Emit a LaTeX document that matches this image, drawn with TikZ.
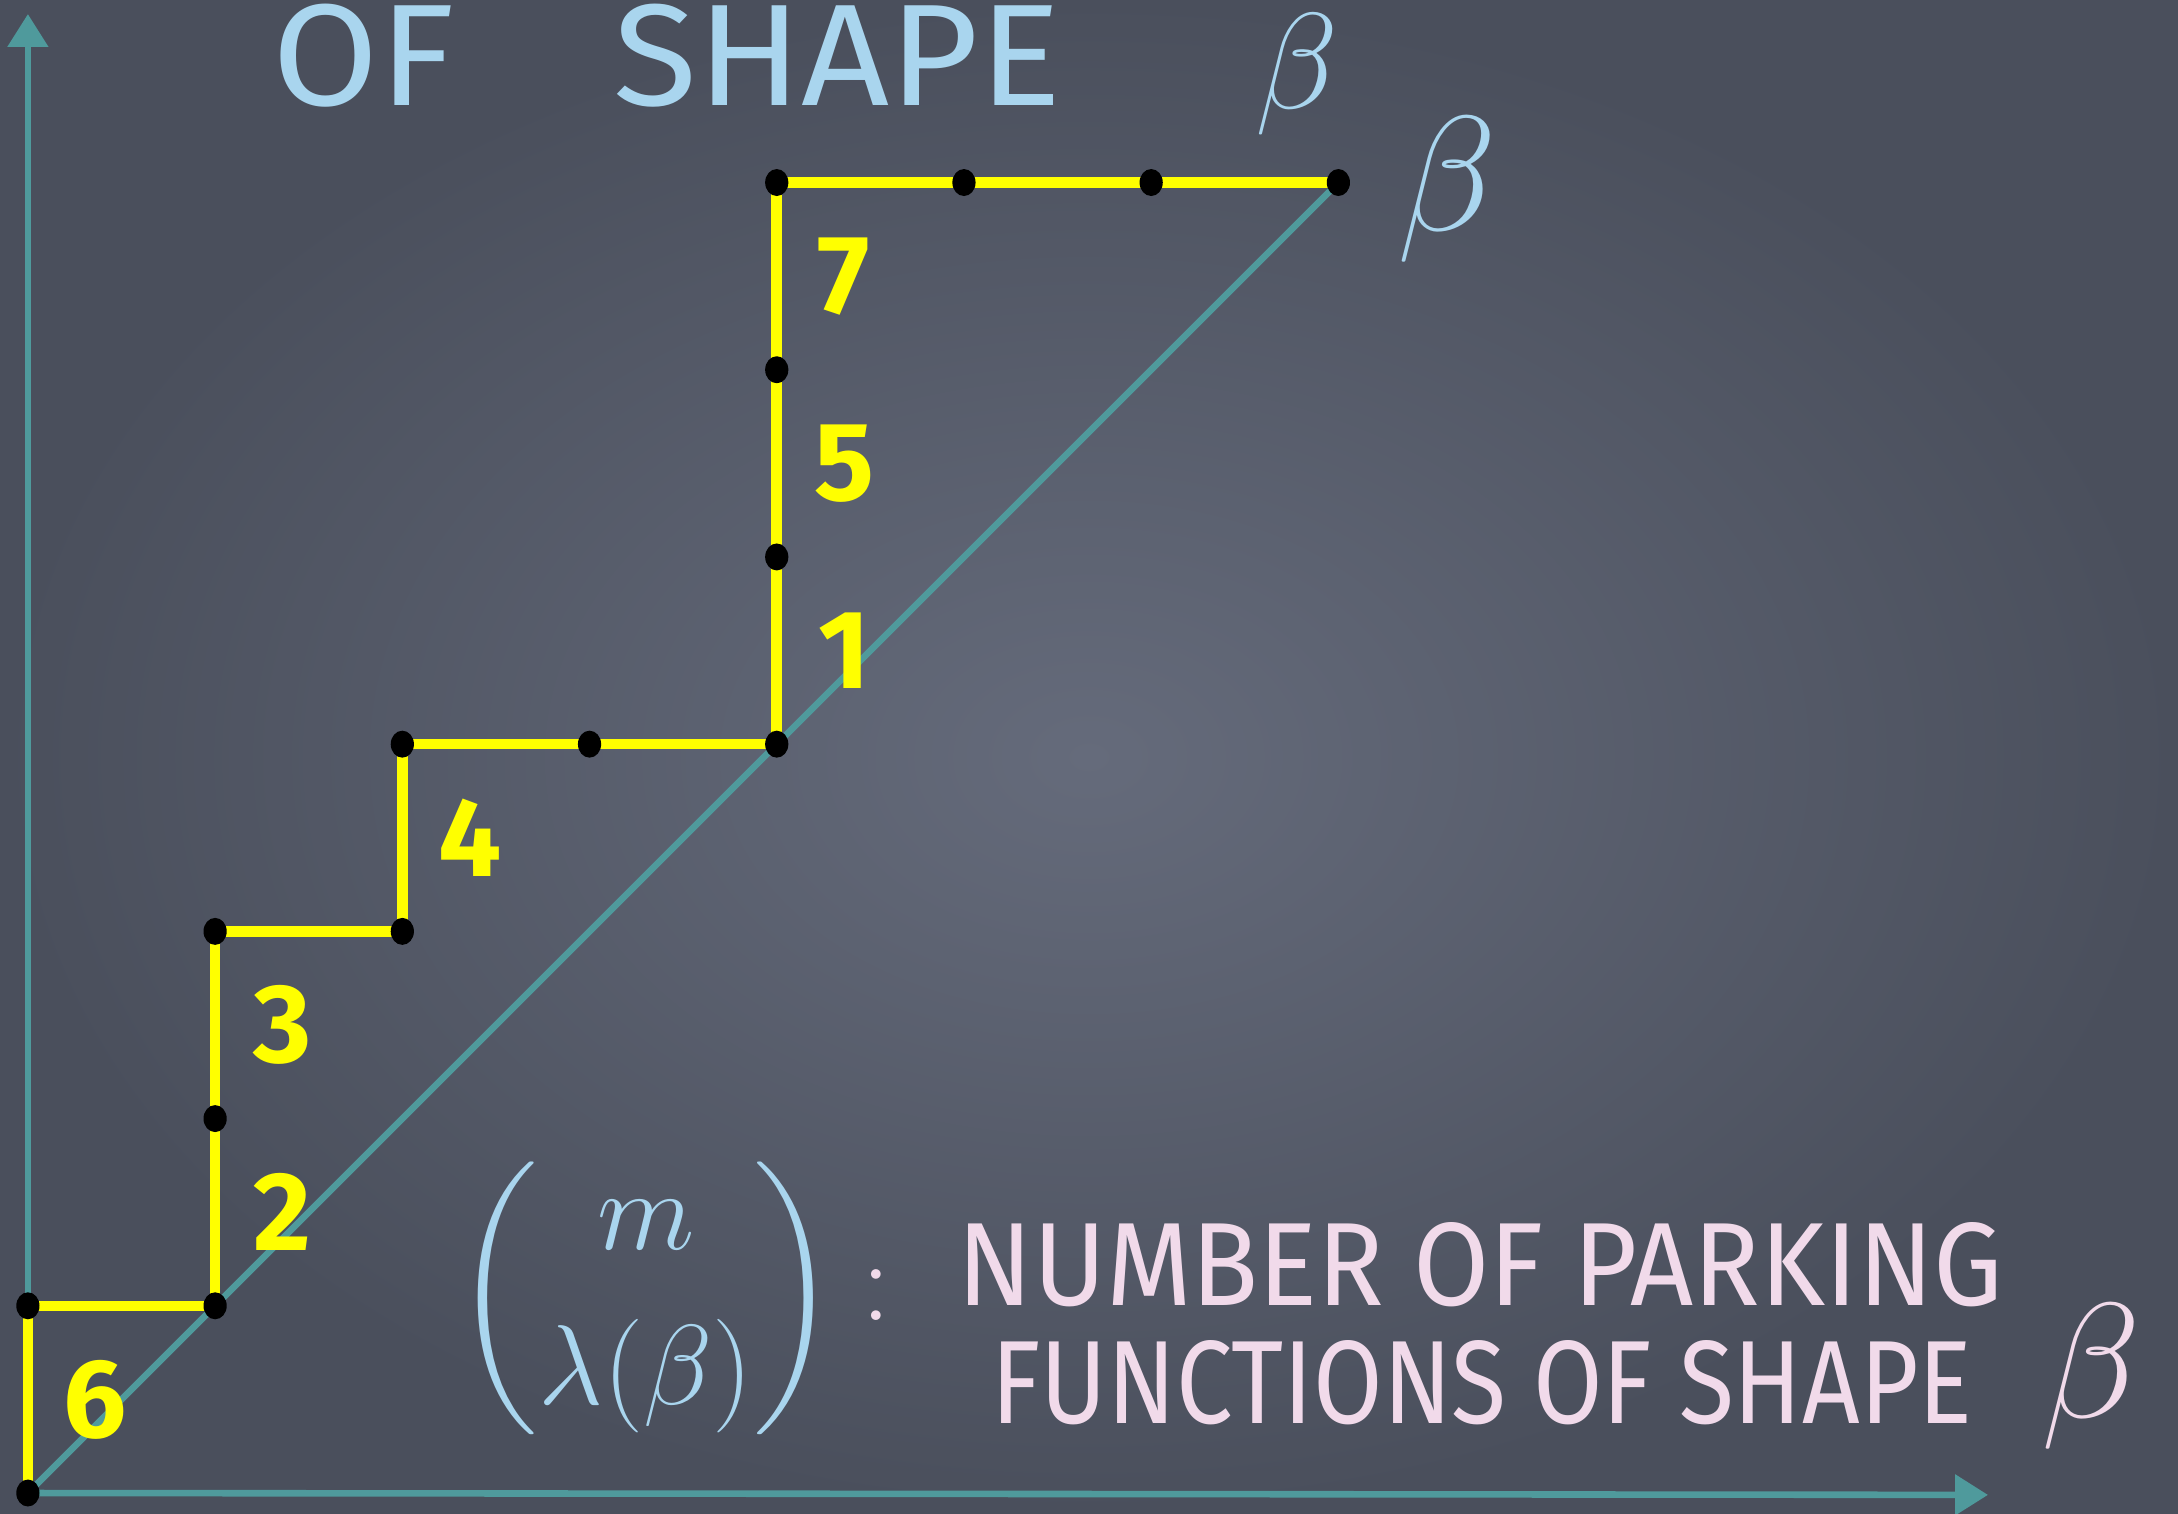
\documentclass[tikz,border=0pt]{standalone}
\usepackage{amsmath}
\usepackage{fontspec}
\usetikzlibrary{arrows.meta}
\newfontfamily\chalkfont{Fira Sans}[FakeStretch=0.85]
\newfontfamily\digitfont{Fira Sans}
\definecolor{board}{HTML}{656B7B}
\definecolor{boarddark}{HTML}{4A4F5C}
\definecolor{axisteal}{HTML}{4F9A9C}
\definecolor{chalkblue}{HTML}{A9D5EE}
\definecolor{chalkpink}{HTML}{F1DAEA}
\definecolor{pathyellow}{HTML}{FFFF00}
\tikzset{
  axisline/.style={axisteal, line width=1pt},
  lattice/.style={pathyellow, line width=1.6pt},
  vertex/.style={fill=black},
  num/.style={pathyellow, font={\digitfont\bfseries\fontsize{17}{19}\selectfont}},
  chalk/.style={font={\chalkfont\fontsize{18}{20}\selectfont}, inner sep=0pt}
}
\begin{document}
\begin{tikzpicture}[line join=round, line cap=round, >={Triangle[length=5pt,width=6pt]}]
	\useasboundingbox (-0.149,-0.112) rectangle (11.485,7.975);
	\shade[inner color=board, outer color=boarddark] (-0.149,-0.112) rectangle (11.485,7.975);
	% axes and diagonal
	\coordinate (O) at (0,0);
	\coordinate (ytip) at (0,7.9);
	\coordinate (xtip) at (10.47,-0.01);
	\draw[axisline,->] (O)--(ytip);
	\draw[axisline,->] (O)--(xtip);
	\foreach \n/\x/\y in {p0/0/0, p1/0/1, p2/1/1, p3/1/2, p4/1/3, p5/2/3, p6/2/4, p7/3/4,
		p8/4/4, p9/4/5, p10/4/6, p11/4/7, p12/5/7, p13/6/7, p14/7/7}
		\coordinate (\n) at (\x,\y);
	\draw[axisline] (p0)--(p14);
	% lattice path
	\draw[lattice] (p0)--(p1)--(p2)--(p3)--(p4)--(p5)--(p6)--(p7)--(p8)--(p9)--(p10)--(p11)--(p12)--(p13)--(p14);
	\foreach \n in {p0,p1,p2,p3,p4,p5,p6,p7,p8,p9,p10,p11,p12,p13,p14}
		\fill[vertex] (\n) ellipse (0.062 and 0.072);
	% labels of the north steps
	\node[num] (l6) at (0.36,0.5) {6};
	\node[num] (l2) at (1.36,1.5) {2};
	\node[num] (l3) at (1.36,2.5) {3};
	\node[num] (l4) at (2.36,3.5) {4};
	\node[num] (l1) at (4.36,4.5) {1};
	\node[num] (l5) at (4.36,5.5) {5};
	\node[num] (l7) at (4.36,6.5) {7};
	% chalk writing
	\node[chalk, chalkblue, anchor=base west] (of) at (1.3,7.41) {\fontsize{22}{24}\selectfont\scalebox{1.25}[1]{OF}};
	\node[chalk, chalkblue, anchor=base west] (shape) at (3.12,7.41) {\fontsize{22}{24}\selectfont\scalebox{1.25}[1]{SHAPE}};
	\node[chalkblue, font=\fontsize{20}{22}\selectfont, inner sep=0pt] (betatop) at (6.78,7.58) {$\beta$};
	\node[chalkblue, font=\fontsize{24}{26}\selectfont] (betapt) at (7.58,6.96) {$\beta$};
	\node[chalkblue, font=\fontsize{16}{18}\selectfont] (binom) at (3.30,1.04) {$\dbinom{m}{\lambda(\beta)}$};
	\node[chalkpink, font=\fontsize{18}{20}\selectfont] (colon) at (4.53,1.06) {:};
	\node[chalk, chalkpink, anchor=base west] (line1) at (4.96,1.0) {\scalebox{1.095}[1]{NUMBER OF PARKING}};
	\node[chalk, chalkpink, anchor=base west] (line2) at (5.14,0.37) {FUNCTIONS OF SHAPE};
	\node[chalkpink, font=\fontsize{24}{26}\selectfont] (betabot) at (11.02,0.62) {$\beta$};
\end{tikzpicture}
\end{document}
